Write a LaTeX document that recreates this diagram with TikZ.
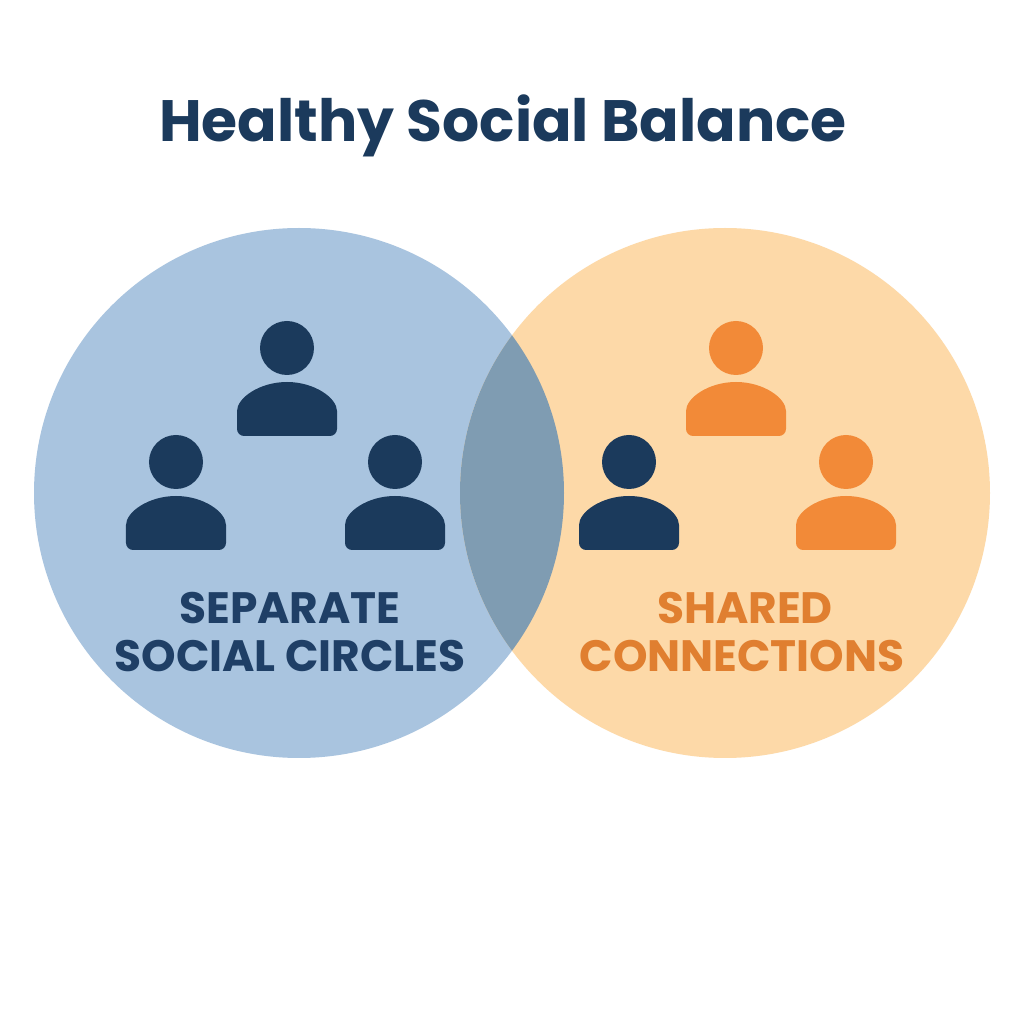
\documentclass[tikz,border=0pt]{standalone}
\usepackage{fontspec}
\setmainfont{Poppins}
\definecolor{navy}{HTML}{1B3A5C}
\definecolor{lblue}{HTML}{A9C4DF}
\definecolor{lorange}{HTML}{FDD9A8}
\definecolor{overlap}{HTML}{7F9CB2}
\definecolor{orng}{HTML}{F28A38}
\definecolor{orngtxt}{HTML}{E07F30}
\definecolor{navytxt}{HTML}{1F3F66}
\tikzset{
  lbl/.style={font=\fontsize{12.5}{15}\selectfont\bfseries, inner sep=0pt},
}
\newcommand{\person}[3]{% x y(head center, px from top) colour
  \fill[#3] (#1/100, {(1024-#2)/100}) circle (0.27);
  \fill[#3, rounded corners=2pt] ({(#1-50)/100},{(1024-#2-88)/100}) -- ({(#1-50)/100},{(1024-#2-70)/100})
     arc[start angle=180,end angle=0,x radius=0.5,y radius=0.36] -- ({(#1+50)/100},{(1024-#2-88)/100}) -- cycle;
}
\begin{document}
\begin{tikzpicture}
\useasboundingbox (0,0) rectangle (10.24,10.24);
\fill[white] (0,0) rectangle (10.24,10.24);
\coordinate (cl) at (2.99,5.31);
\coordinate (cr) at (7.25,5.31);
\fill[lblue] (cl) circle (2.65);
\fill[lorange] (cr) circle (2.65);
\begin{scope}
\clip (cl) circle (2.65);
\fill[overlap] (cr) circle (2.65);
\end{scope}
\node[font=\fontsize{16.6}{20}\selectfont\bfseries, text=navy] (title) at (5.03,8.98) {Healthy Social Balance};
\person{287}{348}{navy}
\person{176}{462}{navy}
\person{395}{462}{navy}
\person{736}{348}{orng}
\person{629}{462}{navy}
\person{846}{462}{orng}
\node[lbl, text=navytxt] (s1) at (2.90,4.16) {SEPARATE};
\node[lbl, text=navytxt] (s2) at (2.90,3.68) {SOCIAL CIRCLES};
\node[lbl, text=orngtxt] (r1) at (7.45,4.16) {SHARED};
\node[lbl, text=orngtxt] (r2) at (7.42,3.68) {CONNECTIONS};
\end{tikzpicture}
\end{document}
